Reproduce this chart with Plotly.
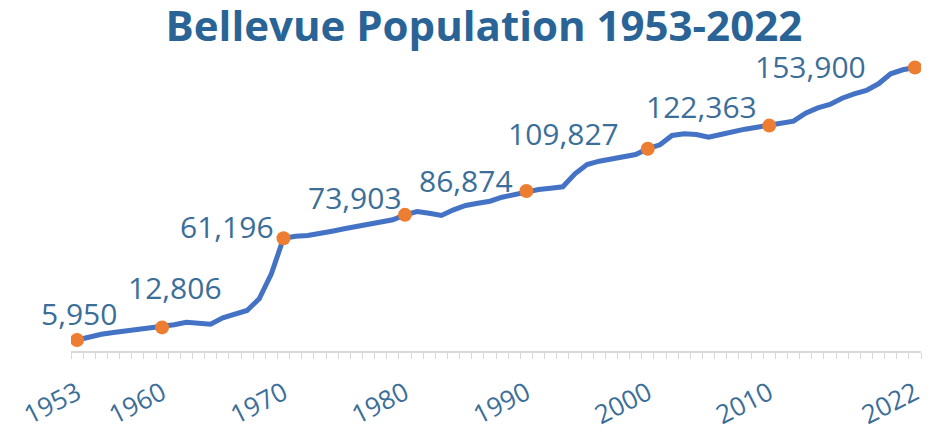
import plotly.graph_objects as go

# ---- data ----
years = list(range(1953, 2023))
population = [
    5950, 7700, 9120, 10040, 10860, 11510, 12100, 12806,
    14220, 15640, 14770, 14550, 18020, 19820, 21990, 28340, 41910, 61196,
    62320, 62700, 63620, 65040, 66340, 67590, 68680, 69760, 71220, 73903,
    75730, 74810, 73560, 76650, 78990, 80240, 81320, 83500, 84960, 86874,
    87680, 88400, 89130, 96200, 101250, 103040, 104340, 105210, 106680, 109827,
    111940, 117000, 117900, 117540, 116070, 117540, 119160, 120420, 121500, 122363,
    123680, 124760, 129100, 132000, 133820, 137250, 139630, 141420, 145060, 150490, 152660, 153900,
]
key_years = [1953, 1960, 1970, 1980, 1990, 2000, 2010, 2022]
tick_labels = [str(y) for y in key_years]
title_text = "Bellevue Population 1953-2022"

# ---- styling / placement ----
key_values = [population[years.index(y)] for y in key_years]
label_offsets = [(2, -27), (13, -40), (-57, -12), (-50, -17), (-60, -10), (-84, -15), (-68, -19), (-104, -1)]

LINE = "#4472C4"
ORANGE = "#ED7D31"
TITLE_C = "#2A6496"
TEXT_C = "#3B6E98"
AXIS_C = "#D9D9D9"
FONT = "Open Sans"

fig = go.Figure()
fig.add_trace(go.Scatter(x=years, y=population, mode="lines",
                         line=dict(color=LINE, width=5), hoverinfo="skip"))
fig.add_trace(go.Scatter(x=key_years, y=key_values, mode="markers",
                         marker=dict(color=ORANGE, size=14), hoverinfo="skip"))

for yr, v, (dx, dy) in zip(key_years, key_values, label_offsets):
    fig.add_annotation(x=yr, y=v, text=f"{v:,}", showarrow=False,
                       xanchor="center", yanchor="middle",
                       xshift=dx, yshift=-dy,
                       font=dict(family=FONT, size=30, color=TEXT_C))

fig.update_layout(
    width=924, height=425,
    margin=dict(l=63, r=11, t=48, b=82, autoexpand=False),
    paper_bgcolor="white", plot_bgcolor="white",
    showlegend=False,
    title=dict(text=f"<b>{title_text}</b>", x=0.515, xanchor="center",
               y=0.9576, yanchor="middle", yref="container",
               font=dict(family=FONT, size=42, color=TITLE_C)),
    xaxis=dict(range=[1952.5, 2022.5], tickmode="array", tickvals=key_years,
               ticktext=tick_labels, ticks="", tickangle=-27,
               ticklabelstandoff=15, automargin=False,
               tickfont=dict(family=FONT, size=26, color=TEXT_C),
               showline=True, linecolor=AXIS_C, linewidth=2,
               showgrid=False, zeroline=False,
               minor=dict(tickmode="linear", tick0=1952.5, dtick=1, ticks="outside",
                          ticklen=6, tickcolor=AXIS_C, tickwidth=1, showgrid=False)),
    yaxis=dict(range=[0, 160150], visible=False, showgrid=False, zeroline=False,
               automargin=False),
)

fig.write_html("out.html")
